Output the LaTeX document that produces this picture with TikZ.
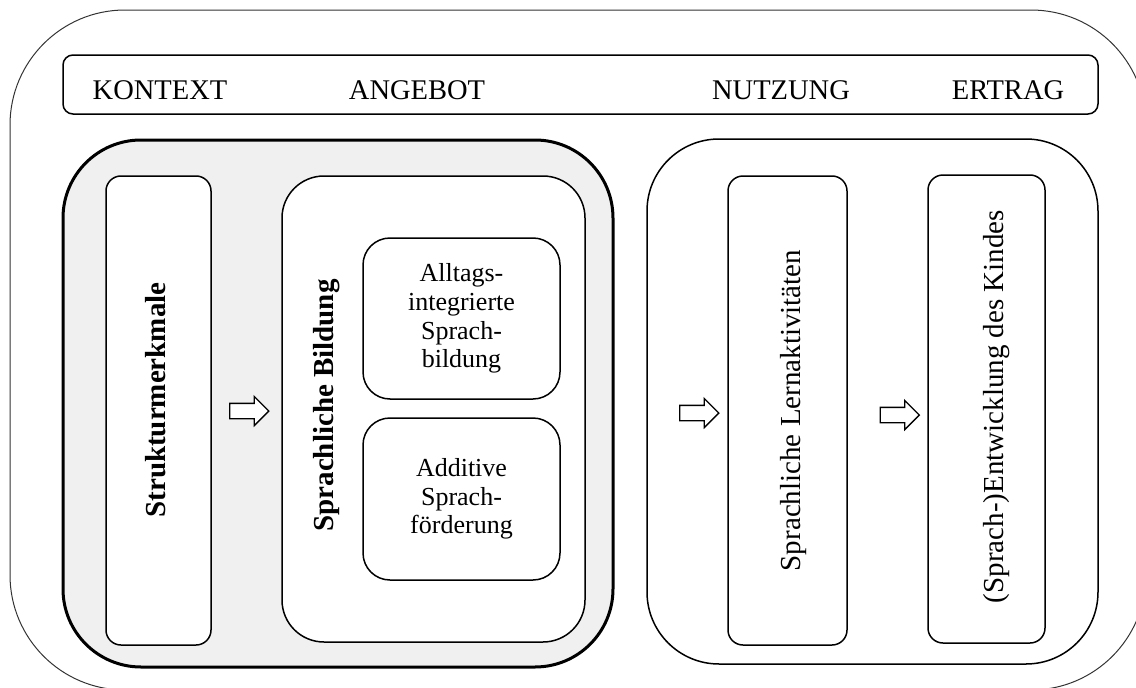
\documentclass[tikz,border=0pt]{standalone}
\usepackage{fontspec}
\setmainfont{Liberation Serif}
\usetikzlibrary{shapes.arrows}

\begin{document}
\begin{tikzpicture}[x=1pt, y=-1pt,
  box/.style={draw, line width=1.5pt, fill=white, inner sep=0pt},
  label/.style={font=\fontsize{29pt}{34pt}\selectfont, inner sep=0pt},
  kopflabel/.style={font=\fontsize{28.5pt}{34pt}\selectfont, inner sep=0pt, anchor=base},
  innen/.style={box, rounded corners=27pt, minimum width=197pt, align=center,
    font=\fontsize{26pt}{28.7pt}\selectfont},
  pfeil/.style={draw, line width=1.3pt, fill=white, single arrow, inner sep=7pt,
    minimum height=39pt, minimum width=28pt, single arrow head extend=7pt}]
\useasboundingbox (0,0) rectangle (1136,688);
\clip (0,0) rectangle (1136,688);

% frames
\node[draw, black!80, line width=1pt, rounded corners=115pt, minimum width=1136pt, minimum height=680pt] (rahmen) at (578,350) {};
\node[box, rounded corners=10pt, minimum width=1035pt, minimum height=59pt] (kopf) at (580.5,84.5) {};
\node[box, fill=black!6, line width=3pt, rounded corners=78pt, minimum width=550pt, minimum height=527pt] (angebot) at (338,403.5) {};
\node[box, rounded corners=72pt, minimum width=451pt, minimum height=525pt] (nutzung) at (872.5,401.5) {};

% header
\node[kopflabel] (kontext) at (160,99) {KONTEXT};
\node[kopflabel] (angebotL) at (417,99) {ANGEBOT};
\node[kopflabel] (nutzungL) at (781,99) {NUTZUNG};
\node[kopflabel] (ertrag) at (1008,99) {ERTRAG};

% boxes
\node[box, rounded corners=15pt, minimum width=105pt, minimum height=469pt] (struktur) at (158.5,410.5) {};
\node[box, rounded corners=42pt, minimum width=303pt, minimum height=466pt] (bildung) at (433.5,409) {};
\node[innen, minimum height=161pt] (alltag) at (461.5,318.5) {Alltags-\\integrierte\\Sprach-\\bildung};
\node[innen, minimum height=162pt] (additiv) at (461.5,499) {Additive\\Sprach-\\förderung};
\node[box, rounded corners=15pt, minimum width=119pt, minimum height=469pt] (lernen) at (787.5,410.5) {};
\node[box, rounded corners=15pt, minimum width=117pt, minimum height=468pt] (entwicklung) at (986.5,409) {};

% vertical texts
\node[label, font=\fontsize{29pt}{34pt}\selectfont\bfseries, rotate=90, anchor=base] (strukturL) at (165,400) {Strukturmerkmale};
\node[label, font=\fontsize{29pt}{34pt}\selectfont\bfseries, rotate=90, anchor=base] (bildungL) at (333,405.5) {Sprachliche Bildung};
\node[label, rotate=90, anchor=base] (lernenL) at (800,410.5) {Sprachliche Lernaktivitäten};
\node[label, rotate=90, anchor=base] (entwicklungL) at (1003,406.5) {(Sprach-)Entwicklung des Kindes};

% arrows
\node[pfeil] (p1) at (245.5,411) {};
\node[pfeil] (p2) at (695.5,413) {};
\node[pfeil] (p3) at (896,415) {};
\end{tikzpicture}
\end{document}
